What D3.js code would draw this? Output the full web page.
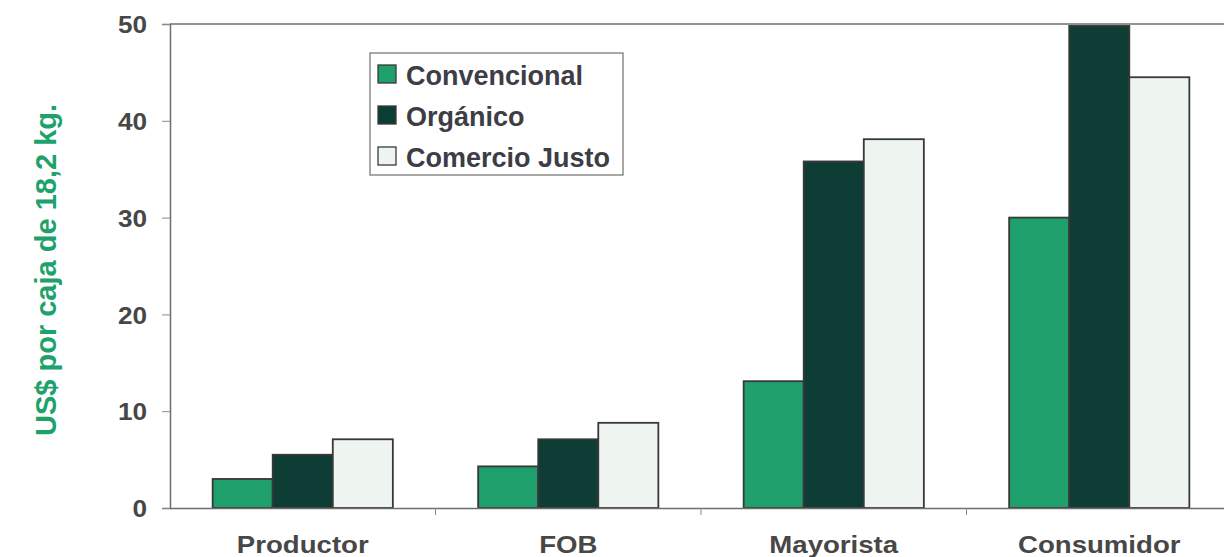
<!DOCTYPE html>
<html>
<head>
<meta charset="utf-8">
<script src="https://cdn.jsdelivr.net/npm/d3@7"></script>
<style>
  html, body { margin: 0; padding: 0; background: #ffffff; }
  svg { display: block; }
  text { font-family: "Liberation Sans", Arial, sans-serif; font-weight: bold; }
</style>
</head>
<body>
<svg id="chart" width="1224" height="557"></svg>
<script>
// Price per 18.2 kg box along the supply chain
const categories = ["Productor", "FOB", "Mayorista", "Consumidor"];
const seriesNames = ["Convencional", "Orgánico", "Comercio Justo"];
const convencional = [3.0, 4.3, 13.1, 30.0];
const organico = [5.5, 7.1, 35.8, 49.8];
const comercioJusto = [7.1, 8.8, 38.1, 44.5];
const yTicks = [0, 10, 20, 30, 40, 50];

const seriesValues = [convencional, organico, comercioJusto];
const colors = ["#1e9f6b", "#0d3d35", "#eef5f1"];

const svg = d3.select("#chart");
const plotLeft = 170, plotRight = 1232, plotTop = 24, plotBottom = 508;
const font = "'Liberation Sans', Arial, sans-serif";

const x = d3.scaleBand().domain(categories).range([plotLeft, plotRight]).paddingInner(0).paddingOuter(0);
const xs = d3.scaleBand().domain(seriesNames).range([0, x.bandwidth()]).paddingOuter(0.71).paddingInner(0);
const y = d3.scaleLinear().domain([0, 50]).range([plotBottom, plotTop]);

// Top frame line
svg.append("line")
  .attr("x1", plotLeft).attr("x2", 1224)
  .attr("y1", y(50)).attr("y2", y(50))
  .attr("stroke", "#6e6e6e").attr("stroke-width", 1.5);

// Bars
const groups = svg.append("g").selectAll("g")
  .data(categories)
  .join("g")
  .attr("transform", d => `translate(${x(d)},0)`);

groups.selectAll("rect")
  .data((d, i) => seriesNames.map((s, j) => ({ s, v: seriesValues[j][i], j })))
  .join("rect")
  .attr("x", d => xs(d.s))
  .attr("y", d => y(d.v))
  .attr("width", xs.bandwidth())
  .attr("height", d => y(0) - y(d.v))
  .attr("fill", d => colors[d.j])
  .attr("stroke", "#383838")
  .attr("stroke-width", 1.8);

// Y axis
const yAxis = svg.append("g")
  .attr("transform", `translate(${plotLeft},0)`)
  .call(d3.axisLeft(y).tickValues(yTicks).tickSize(8).tickFormat(d3.format("d")));
yAxis.select(".domain").attr("stroke", "#6e6e6e").attr("stroke-width", 1.5);
yAxis.selectAll(".tick line").attr("stroke", "#8a8a8a").attr("stroke-width", 1);
yAxis.selectAll(".tick text")
  .attr("x", 0)
  .attr("dy", "0.36em")
  .attr("transform", "translate(-23,0) scale(1.09,1)")
  .attr("fill", "#474747")
  .style("font-size", "24px")
  .style("font-family", font)
  .style("font-weight", "bold");

// X axis
const xAxis = svg.append("g")
  .attr("transform", `translate(0,${plotBottom})`)
  .call(d3.axisBottom(x).tickSize(0));
xAxis.select(".domain").attr("stroke", "#6e6e6e").attr("stroke-width", 1.5);
xAxis.selectAll(".tick text")
  .attr("y", 45)
  .attr("dy", 0)
  .attr("transform", "scale(1.2,1)")
  .attr("fill", "#474747")
  .style("font-size", "23px")
  .style("font-family", font)
  .style("font-weight", "bold");

// Category boundary marks
svg.append("g").selectAll("line")
  .data(categories.slice(1))
  .join("line")
  .attr("x1", d => x(d)).attr("x2", d => x(d))
  .attr("y1", plotBottom).attr("y2", plotBottom + 7)
  .attr("stroke", "#8a8a8a").attr("stroke-width", 1);

// Y axis title
svg.append("text")
  .attr("transform", `translate(56,${(plotTop + plotBottom) / 2 + 4}) rotate(-90)`)
  .attr("text-anchor", "middle")
  .attr("fill", "#1ea26c")
  .style("font-size", "29px")
  .text("US$ por caja de 18,2 kg.");

// Legend
const legend = svg.append("g").attr("transform", "translate(370,53)");
legend.append("rect")
  .attr("width", 253).attr("height", 122)
  .attr("fill", "#ffffff")
  .attr("stroke", "#7a7a7a").attr("stroke-width", 1.3);
const items = legend.selectAll("g.item")
  .data(seriesNames)
  .join("g")
  .attr("class", "item")
  .attr("transform", (d, i) => `translate(8,${12 + i * 41})`);
items.append("rect")
  .attr("width", 18).attr("height", 18)
  .attr("fill", (d, i) => colors[i])
  .attr("stroke", "#3a3a3a").attr("stroke-width", 1.3);
items.append("text")
  .attr("x", 28).attr("y", 20)
  .attr("fill", "#3d3d45")
  .style("font-size", "27px")
  .text(d => d);
</script>
</body>
</html>
